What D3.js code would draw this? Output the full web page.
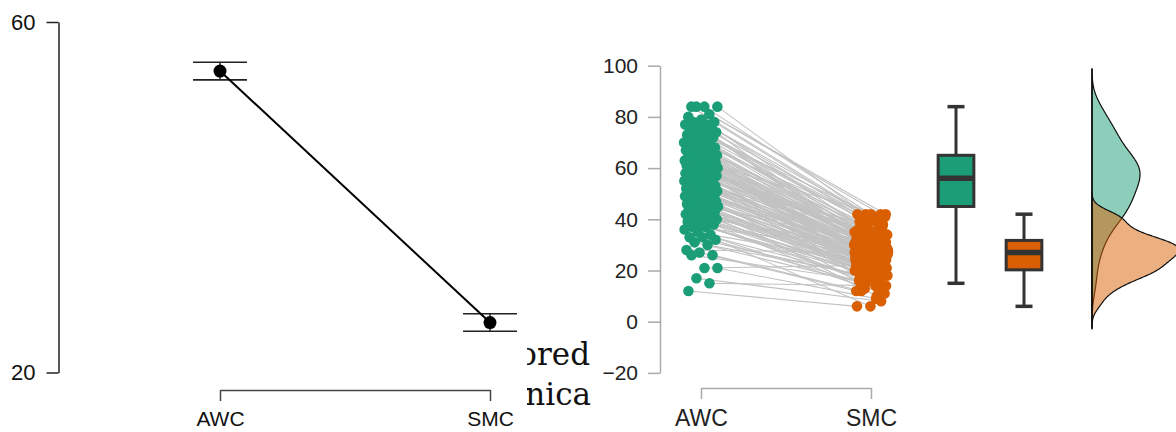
<!DOCTYPE html>
<html>
<head>
<meta charset="utf-8">
<script src="https://cdn.jsdelivr.net/npm/d3@7"></script>
<style>
  body { margin: 0; background: #fff; }
  svg { display: block; }
</style>
</head>
<body>
<svg width="1176" height="432"></svg>
<script>
// Categories
const groups = ["AWC", "SMC"];

// Left panel: group means with error bars
const meanValues = [54.4, 25.7];
const lowerValues = [53.4, 24.7];
const upperValues = [55.4, 26.7];
const leftTicks = [20, 60];

// Right panel: paired observations (same index = same subject)
const awc = [12, 15, 17, 21, 21, 26, 26, 27, 28, 30,
  31, 32, 33, 33, 34, 35, 36, 37, 37, 38,
  38, 39, 39, 39, 40, 40, 41, 41, 41, 42,
  42, 43, 43, 43, 44, 44, 44, 45, 45, 45,
  46, 46, 46, 46, 47, 47, 47, 48, 48, 48,
  49, 49, 49, 49, 50, 50, 50, 51, 51, 51,
  52, 52, 52, 52, 53, 53, 53, 54, 54, 54,
  54, 55, 55, 55, 56, 56, 56, 56, 56, 57,
  57, 57, 57, 58, 58, 58, 58, 58, 59, 59,
  59, 59, 60, 60, 60, 60, 61, 61, 61, 61,
  62, 62, 62, 62, 63, 63, 63, 64, 64, 64,
  64, 65, 65, 65, 65, 66, 66, 66, 67, 67,
  68, 68, 69, 69, 69, 70, 70, 71, 71, 72,
  72, 73, 73, 74, 74, 74, 75, 76, 76, 77,
  77, 78, 78, 79, 80, 81, 84, 84, 84, 84];

const smc = [6, 14, 8, 9, 22, 16, 12, 12, 27, 17,
  14, 6, 15, 18, 24, 11, 16, 19, 29, 13,
  17, 20, 18, 15, 25, 20, 19, 16, 30, 21,
  19, 17, 20, 22, 27, 18, 20, 22, 31, 19,
  21, 23, 21, 20, 10, 24, 22, 20, 33, 24,
  23, 21, 23, 25, 15, 22, 24, 26, 35, 23,
  25, 26, 25, 23, 18, 27, 25, 24, 39, 27,
  26, 25, 26, 28, 20, 25, 27, 28, 13, 26,
  27, 29, 28, 26, 34, 29, 28, 27, 17, 30,
  29, 28, 29, 31, 37, 28, 30, 31, 19, 29,
  30, 31, 30, 29, 41, 32, 31, 30, 21, 33,
  31, 30, 32, 34, 32, 31, 32, 35, 22, 31,
  33, 36, 34, 32, 28, 38, 35, 33, 24, 40,
  36, 34, 37, 41, 29, 35, 38, 42, 26, 36,
  40, 40, 41, 37, 31, 42, 42, 39, 42, 42];

const rightTicks = [-20, 0, 20, 40, 60, 80, 100];
const colors = ["#1b9e77", "#d95f02"];
const sans = "Liberation Sans, Arial, sans-serif";

const svg = d3.select("svg");

// ---------- left panel ----------
const xL = d3.scalePoint().domain(groups).range([220, 490]);
const yL = d3.scaleLinear().domain([20, 60]).range([372.5, 22]);

const yAxisL = svg.append("g")
  .attr("transform", "translate(58.5,0)")
  .call(d3.axisLeft(yL).tickValues(leftTicks).tickSize(12).tickSizeOuter(0).tickPadding(11));
yAxisL.selectAll("path, line").attr("stroke", "#222").attr("stroke-width", 1.5);
yAxisL.selectAll("text")
  .attr("font-family", sans).attr("font-size", 22).attr("fill", "#111");

const xAxisL = svg.append("g")
  .attr("transform", "translate(0,390)")
  .call(d3.axisBottom(xL).tickSize(11).tickSizeOuter(0).tickPadding(10));
xAxisL.selectAll("path, line").attr("stroke", "#444").attr("stroke-width", 1.5);
xAxisL.selectAll("text")
  .attr("font-family", sans).attr("font-size", 21).attr("fill", "#111");

const errL = svg.append("g");
groups.forEach((g, i) => {
  const cx = xL(g);
  errL.append("line")
    .attr("x1", cx).attr("x2", cx)
    .attr("y1", yL(lowerValues[i])).attr("y2", yL(upperValues[i]))
    .attr("stroke", "#222").attr("stroke-width", 1.5);
  [lowerValues[i], upperValues[i]].forEach(v => {
    errL.append("line")
      .attr("x1", cx - 27).attr("x2", cx + 27)
      .attr("y1", yL(v)).attr("y2", yL(v))
      .attr("stroke", "#222").attr("stroke-width", 1.6);
  });
});

svg.append("path")
  .datum(meanValues)
  .attr("fill", "none")
  .attr("stroke", "#000")
  .attr("stroke-width", 2)
  .attr("d", d3.line().x((d, i) => xL(groups[i])).y(d => yL(d)));

svg.selectAll("circle.mean")
  .data(meanValues)
  .enter().append("circle")
  .attr("class", "mean")
  .attr("cx", (d, i) => xL(groups[i]))
  .attr("cy", d => yL(d))
  .attr("r", 6.5)
  .attr("fill", "#000");

// background text showing between the two panels
const clip = svg.append("clipPath").attr("id", "txtclip");
clip.append("rect").attr("x", 527).attr("y", 330).attr("width", 66).attr("height", 90);
const bgText = svg.append("g").attr("clip-path", "url(#txtclip)")
  .attr("font-family", "DejaVu Serif, serif").attr("font-size", 31).attr("fill", "#111");
bgText.append("text").attr("x", 590).attr("y", 365).attr("text-anchor", "end").text("ored");
bgText.append("text").attr("x", 591).attr("y", 405).attr("text-anchor", "end").text("nica");

// ---------- right panel ----------
const xR = d3.scaleLinear().domain([1, 2]).range([701, 871]);
const yR = d3.scaleLinear().domain([-20, 100]).range([372.9, 65.7]);
const xRP = d3.scalePoint().domain(groups).range([xR(1), xR(2)]);

const yAxisR = svg.append("g")
  .attr("transform", "translate(660,0)")
  .call(d3.axisLeft(yR).tickValues(rightTicks).tickSize(12).tickSizeOuter(0).tickPadding(10));
yAxisR.selectAll("path, line").attr("stroke", "#aaa").attr("stroke-width", 1.5);
yAxisR.selectAll("text")
  .attr("font-family", sans).attr("font-size", 21).attr("fill", "#222");

const xAxisR = svg.append("g")
  .attr("transform", "translate(0,388)")
  .call(d3.axisBottom(xRP).tickSize(11).tickSizeOuter(0).tickPadding(11));
xAxisR.selectAll("path, line").attr("stroke", "#aaa").attr("stroke-width", 1.5);
xAxisR.selectAll("text")
  .attr("font-family", sans).attr("font-size", 23).attr("fill", "#222");

// jitter: golden-ratio sequence (deterministic spread)
const jitterWidth = 0.2;
const jit = (i, s) => (((i * 0.6180339887 + s) % 1) - 0.5) * jitterWidth;
const pairs = awc.map((a, i) => ({
  a: a, s: smc[i],
  xa: 1 + jit(i, 0.13), xs: 2 + jit(i * 3 + 1, 0.47)
}));

svg.append("g").selectAll("line")
  .data(pairs)
  .enter().append("line")
  .attr("x1", d => xR(d.xa)).attr("y1", d => yR(d.a))
  .attr("x2", d => xR(d.xs)).attr("y2", d => yR(d.s))
  .attr("stroke", "#c2c2c2")
  .attr("stroke-width", 1.1);

svg.append("g").selectAll("circle")
  .data(pairs)
  .enter().append("circle")
  .attr("cx", d => xR(d.xa)).attr("cy", d => yR(d.a))
  .attr("r", 5.3).attr("fill", colors[0]);

svg.append("g").selectAll("circle")
  .data(pairs)
  .enter().append("circle")
  .attr("cx", d => xR(d.xs)).attr("cy", d => yR(d.s))
  .attr("r", 5.3).attr("fill", colors[1]);

// boxplots
const boxPos = [2.5, 2.9];
const boxHalf = 0.105, capHalf = 0.05;
function boxStats(v) {
  const s = v.slice().sort(d3.ascending);
  const q1 = d3.quantileSorted(s, 0.25), med = d3.quantileSorted(s, 0.5), q3 = d3.quantileSorted(s, 0.75);
  const iqr = q3 - q1;
  const lo = d3.min(s.filter(x => x >= q1 - 1.5 * iqr));
  const hi = d3.max(s.filter(x => x <= q3 + 1.5 * iqr));
  return { q1, med, q3, lo, hi };
}
[awc, smc].forEach((v, i) => {
  const b = boxStats(v);
  const cx = xR(boxPos[i]);
  const g = svg.append("g").attr("stroke", "#333");
  g.append("line").attr("x1", cx).attr("x2", cx).attr("y1", yR(b.hi)).attr("y2", yR(b.q3)).attr("stroke-width", 3);
  g.append("line").attr("x1", cx).attr("x2", cx).attr("y1", yR(b.q1)).attr("y2", yR(b.lo)).attr("stroke-width", 3);
  [b.lo, b.hi].forEach(w => {
    g.append("line")
      .attr("x1", xR(boxPos[i] - capHalf)).attr("x2", xR(boxPos[i] + capHalf))
      .attr("y1", yR(w)).attr("y2", yR(w)).attr("stroke-width", 3.5);
  });
  g.append("rect")
    .attr("x", xR(boxPos[i] - boxHalf)).attr("width", xR(boxPos[i] + boxHalf) - xR(boxPos[i] - boxHalf))
    .attr("y", yR(b.q3)).attr("height", yR(b.q1) - yR(b.q3))
    .attr("fill", colors[i]).attr("stroke-width", 3);
  g.append("line")
    .attr("x1", xR(boxPos[i] - boxHalf)).attr("x2", xR(boxPos[i] + boxHalf))
    .attr("y1", yR(b.med)).attr("y2", yR(b.med)).attr("stroke-width", 5.5);
});

// half densities
const densityPos = 3.3;
function bandwidth(v) {
  const s = v.slice().sort(d3.ascending);
  const iqr = d3.quantileSorted(s, 0.75) - d3.quantileSorted(s, 0.25);
  return 0.9 * Math.min(d3.deviation(v), iqr / 1.34) * Math.pow(v.length, -0.2);
}
function kde(v) {
  const bw = bandwidth(v);
  const lo = d3.min(v) - 3 * bw, hi = d3.max(v) + 3 * bw;
  return d3.range(241).map(k => {
    const t = lo + (hi - lo) * k / 240;
    return [t, d3.mean(v, x => Math.exp(-0.5 * ((t - x) / bw) ** 2)) / (bw * Math.sqrt(2 * Math.PI))];
  });
}
const dens = [kde(awc), kde(smc)];
const maxD = d3.max(dens, d => d3.max(d, p => p[1]));
const wScale = d3.scaleLinear().domain([0, maxD]).range([0, 87]);
const x0 = xR(densityPos);
const area = d3.area()
  .y(d => yR(d[0]))
  .x0(x0)
  .x1(d => x0 + wScale(d[1]))
  .curve(d3.curveBasis);
dens.forEach((d, i) => {
  svg.append("path")
    .datum(d)
    .attr("d", area)
    .attr("fill", colors[i])
    .attr("fill-opacity", 0.5)
    .attr("stroke", "#111")
    .attr("stroke-width", 1.2);
});
const allT = dens.flat().map(p => p[0]);
svg.append("line")
  .attr("x1", x0).attr("x2", x0)
  .attr("y1", yR(d3.max(allT))).attr("y2", yR(d3.min(allT)))
  .attr("stroke", "#111").attr("stroke-width", 1.6);
</script>
</body>
</html>
